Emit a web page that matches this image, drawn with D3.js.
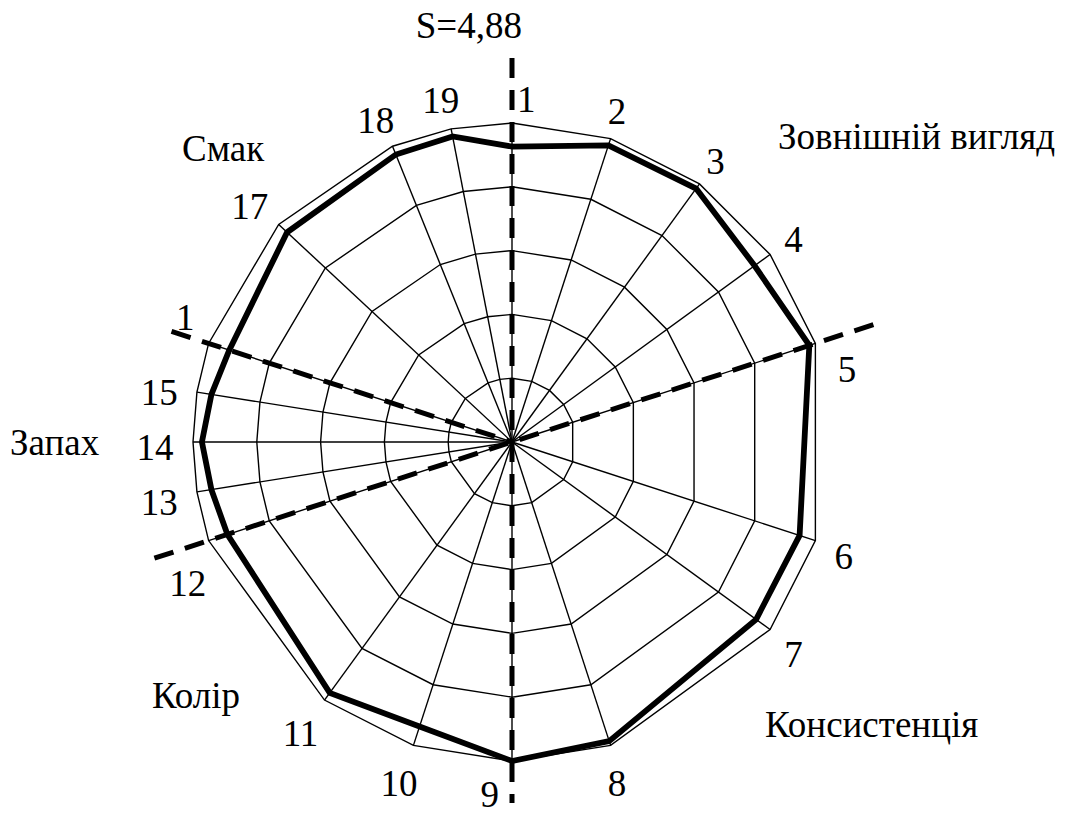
<!DOCTYPE html>
<html>
<head>
<meta charset="utf-8">
<script src="https://cdn.jsdelivr.net/npm/d3@7"></script>
<style>
  html, body { margin: 0; padding: 0; background: #fff; }
</style>
</head>
<body>
<svg id="chart" width="1067" height="816"></svg>
<script>
// spoke numbers (the 16th one shows only "1" in the source)
const spokeLabels = ["1", "2", "3", "4", "5", "6", "7", "8", "9", "10",
                     "11", "12", "13", "14", "15", "1", "17", "18", "19"];
// spoke directions, degrees clockwise from 12 o'clock
const spokeAngles = [0, 18, 36, 54, 72, 108, 126, 162, 180, 198,
                     216, 252, 261, 270, 279, 288, 313, 338, 349];
// scores per indicator (0..5 scale)
const scores = [4.63, 4.89, 4.91, 4.70, 4.90, 4.74, 4.73, 4.93, 5.00, 4.69,
                4.86, 4.69, 4.77, 4.86, 4.77, 4.66, 4.82, 4.86, 4.88];
const gridLevels = [1, 2, 3, 4, 5];
const sectionNames = ["Зовнішній вигляд", "Консистенція", "Колір", "Запах", "Смак"];
const totalLabel = "S=4,88";

const cx = 512, cy = 442;
const outerR = 319;
const fontSize = "37px";
const serif = '"Liberation Serif"';

const svg = d3.select("#chart");
const g = svg.append("g").attr("transform", `translate(${cx},${cy})`);

const rScale = d3.scaleLinear().domain([0, 5]).range([0, outerR]);
const aScale = d3.scaleLinear().domain([0, 360]).range([0, 2 * Math.PI]);

const ring = d3.lineRadial()
  .angle(d => aScale(d.a))
  .radius(d => rScale(d.v))
  .curve(d3.curveLinearClosed);

// grid rings
g.selectAll(".ring")
  .data(gridLevels)
  .enter().append("path")
  .attr("class", "ring")
  .attr("d", lv => ring(spokeAngles.map(a => ({ a: a, v: lv }))))
  .attr("fill", "none")
  .attr("stroke", "#000")
  .attr("stroke-width", 1.4);

// spokes
g.selectAll(".spoke")
  .data(spokeAngles)
  .enter().append("line")
  .attr("class", "spoke")
  .attr("x1", 0).attr("y1", 0)
  .attr("x2", a => d3.pointRadial(aScale(a), rScale(5))[0])
  .attr("y2", a => d3.pointRadial(aScale(a), rScale(5))[1])
  .attr("stroke", "#000")
  .attr("stroke-width", 1.4);

// score polygon
g.append("path")
  .attr("d", ring(spokeAngles.map((a, i) => ({ a: a, v: scores[i] }))))
  .attr("fill", "none")
  .attr("stroke", "#000")
  .attr("stroke-width", 5.8)
  .attr("stroke-linejoin", "miter");

// dashed section dividers: [spoke index, reach px] for each end
const dividers = [
  [[0, 384], [8, 361]],
  [[4, 380], [11, 386]],
  [[15, 358]]
];
dividers.forEach(seg => {
  const p1 = d3.pointRadial(aScale(spokeAngles[seg[0][0]]), seg[0][1]);
  const p2 = seg[1] ? d3.pointRadial(aScale(spokeAngles[seg[1][0]]), seg[1][1]) : [0, 0];
  g.append("line")
    .attr("x1", p1[0]).attr("y1", p1[1])
    .attr("x2", p2[0]).attr("y2", p2[1])
    .attr("stroke", "#000")
    .attr("stroke-width", 5)
    .attr("stroke-dasharray", "20,12");
});

// spoke numbers; the ones sitting on a divider are nudged aside and pulled in
const labelShift = { 0: 3, 4: 5, 8: 3, 11: -5, 15: 4 };
const labelR = 353, dividerLabelR = 348;
const labelPos = i => d3.pointRadial(
  aScale(spokeAngles[i] + (labelShift[i] || 0)),
  labelShift[i] ? dividerLabelR : labelR);
const lab = g.append("g").attr("transform", "translate(-4,5)");
lab.selectAll(".num")
  .data(spokeLabels)
  .enter().append("text")
  .attr("class", "num")
  .style("font-family", serif)
  .style("font-size", fontSize)
  .attr("text-anchor", "middle")
  .attr("dy", "0.35em")
  .attr("x", (t, i) => labelPos(i)[0])
  .attr("y", (t, i) => labelPos(i)[1])
  .text(t => t);

// group names
const sectionPos = [[778, 149], [765, 737], [152, 708], [10, 455], [182, 161]];
svg.selectAll(".sect")
  .data(sectionNames)
  .enter().append("text")
  .attr("class", "sect")
  .style("font-family", serif)
  .style("font-size", fontSize)
  .attr("x", (t, i) => sectionPos[i][0])
  .attr("y", (t, i) => sectionPos[i][1])
  .text(t => t);

svg.append("text")
  .style("font-family", serif)
  .style("font-size", fontSize)
  .attr("x", cx + 10)
  .attr("y", 38)
  .attr("text-anchor", "end")
  .text(totalLabel);
</script>
</body>
</html>
